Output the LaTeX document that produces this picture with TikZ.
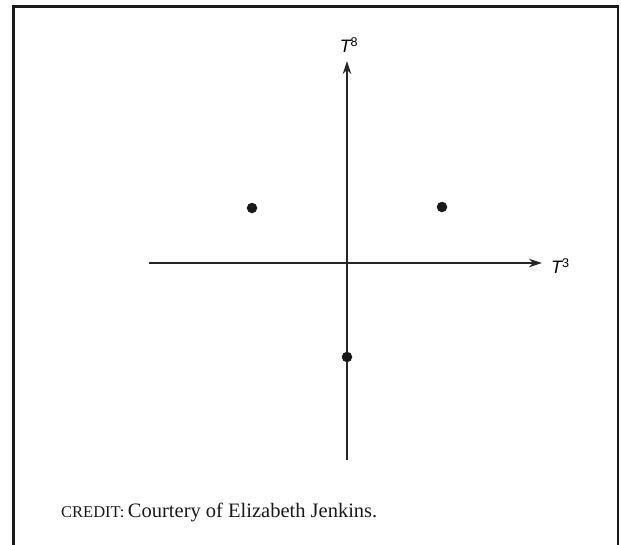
\documentclass[tikz,border=0pt]{standalone}
\usepackage{fontspec}
\setmainfont{Liberation Serif}
\setsansfont{Liberation Sans}
\usetikzlibrary{arrows.meta}

\begin{document}
\begin{tikzpicture}[x=1pt,y=-1pt,
  axis/.style={line width=1.3pt,draw=black!85,-{Stealth[length=13pt,width=8.5pt]}},
  wt/.style={circle,fill=black!90,inner sep=0pt,minimum size=10.5pt},
  axlabel/.style={font=\sffamily\fontsize{18}{18}\selectfont,inner sep=0pt}]
\useasboundingbox (0,0) rectangle (621,544);
\draw[line width=2.6pt,black!90] (13.5,546) -- (13.5,6.3) -- (618,6.3) -- (618,546);
% axes
\coordinate (xl) at (149,263);
\coordinate (xr) at (542,263);
\coordinate (yb) at (347,460);
\coordinate (yt) at (347,61);
\draw[axis] (xl) -- (xr);
\draw[axis] (yb) -- (yt);
\node[axlabel,anchor=west] (t3) at (551,266) {\itshape T\textsuperscript{\upshape 3}};
\node[axlabel,anchor=south] (t8) at (349,53) {\itshape T\textsuperscript{\upshape 8}};
% weights
\node[wt] (wl) at (252,208) {};
\node[wt] (wr) at (442,207) {};
\node[wt] (wb) at (347,357) {};
\node[anchor=base west,inner sep=0pt,font=\fontsize{20.5}{20.5}\selectfont,text=black!90] (credit) at (61,517)
  {{\fontsize{16.5}{16.5}\selectfont CREDIT:}\,Courtery of Elizabeth Jenkins.};
\end{tikzpicture}
\end{document}
